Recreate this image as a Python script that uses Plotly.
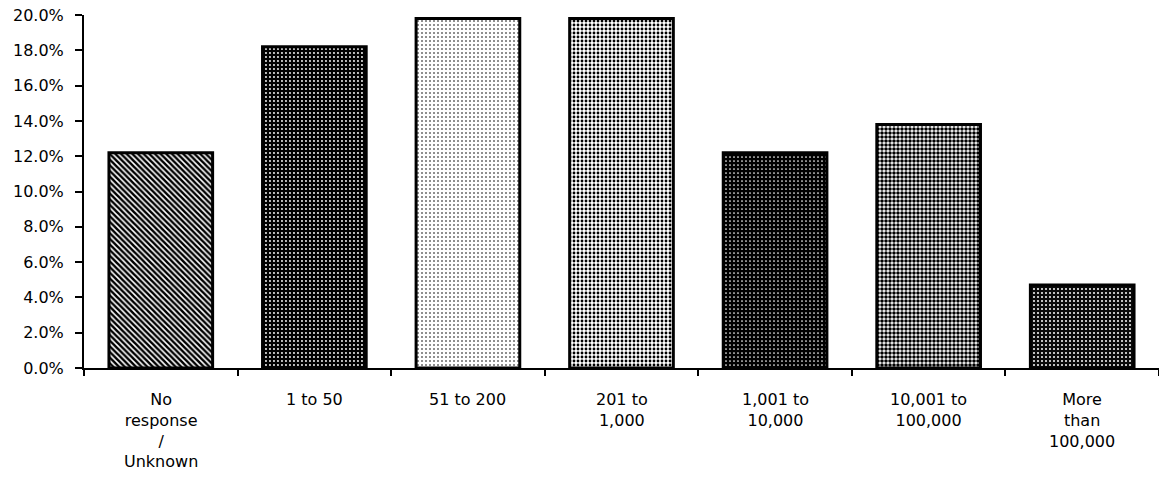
import plotly.graph_objects as go

# Share of respondents by size band
categories = [
    "No<br>response<br>/<br>Unknown",
    "1 to 50",
    "51 to 200",
    "201 to<br>1,000",
    "1,001 to<br>10,000",
    "10,001 to<br>100,000",
    "More<br>than<br>100,000",
]
shares = [0.122, 0.182, 0.198, 0.198, 0.122, 0.138, 0.047]

# Fill pattern for each bar (hatch / stipple tones)
pattern_shapes = ["\\", ".", ".", ".", ".", ".", "."]
pattern_fg = ["#000000", "#ffffff", "#6a6a6a", "#000000", "#ffffff", "#000000", "#ffffff"]
pattern_bg = ["#ffffff", "#000000", "#ffffff", "#ffffff", "#000000", "#ffffff", "#0a0a0a"]
pattern_size = [4, 4, 4, 4, 4, 4, 4]
pattern_solidity = [0.62, 0.18, 0.2, 0.4, 0.14, 0.62, 0.2]

font_family = "DejaVu Sans"

fig = go.Figure(
    go.Bar(
        x=list(range(len(categories))),
        y=shares,
        width=0.675,
        marker=dict(
            color="#ffffff",
            line=dict(color="#000000", width=3),
            pattern=dict(
                shape=pattern_shapes,
                fgcolor=pattern_fg,
                bgcolor=pattern_bg,
                size=pattern_size,
                solidity=pattern_solidity,
                fillmode="replace",
            ),
        ),
        hoverinfo="skip",
    )
)

fig.update_layout(
    width=1159,
    height=477,
    margin=dict(l=84, r=0, t=15, b=109),
    paper_bgcolor="#ffffff",
    plot_bgcolor="#ffffff",
    showlegend=False,
    font=dict(family=font_family, size=16, color="#000000"),
)

fig.update_xaxes(
    range=[-0.5, len(categories) - 0.5],
    tickmode="array",
    tickvals=[i - 0.5 for i in range(len(categories) + 1)],
    ticktext=[""] * (len(categories) + 1),
    ticks="outside",
    ticklen=6,
    tickwidth=2,
    tickcolor="#000000",
    showline=True,
    linecolor="#000000",
    linewidth=2,
    showgrid=False,
    zeroline=False,
    fixedrange=True,
)

# Category labels centred under each bar
for i, label in enumerate(categories):
    fig.add_annotation(
        x=i,
        y=0,
        xref="x",
        yref="y",
        text=label,
        showarrow=False,
        yanchor="top",
        yshift=-20,
        font=dict(family=font_family, size=16, color="#000000"),
        align="center",
    )

fig.update_yaxes(
    range=[0, 0.2],
    dtick=0.02,
    tickformat=".1%",
    ticks="outside",
    ticklen=7,
    tickwidth=2,
    tickcolor="#000000",
    ticklabelstandoff=8,
    showline=True,
    linecolor="#000000",
    linewidth=2,
    showgrid=False,
    zeroline=False,
    fixedrange=True,
)

fig.write_html("out.html")
